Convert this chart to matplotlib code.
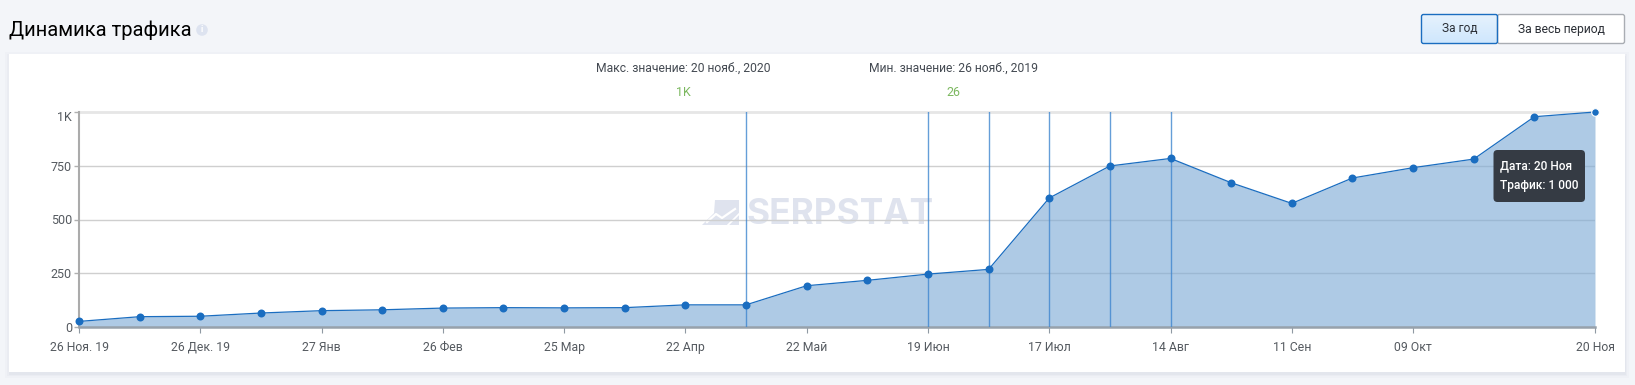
import matplotlib
matplotlib.use("Agg")
import matplotlib.pyplot as plt
from matplotlib.patches import FancyBboxPatch, Rectangle, Polygon, Circle
from matplotlib.colors import LinearSegmentedColormap
from matplotlib.transforms import ScaledTranslation
import numpy as np

W, H = 1635, 385

# --- data ---
values = [26, 48, 50, 65, 76, 80, 88, 90, 89, 90, 103, 103, 192, 217, 246, 268,
          600, 749, 784, 671, 575, 693, 741, 781, 978, 1000]
tick_idx = [0, 2, 4, 6, 8, 10, 12, 14, 16, 18, 20, 22, 25]
tick_labels = ["26 Ноя. 19", "26 Дек. 19", "27 Янв", "26 Фев", "25 Мар", "22 Апр", "22 Май",
               "19 Июн", "17 Июл", "14 Авг", "11 Сен", "09 Окт", "20 Ноя"]
y_ticks = [0, 250, 500, 750, 1000]
y_labels = ["0", "250", "500", "750", "1K"]
marked_idx = [11, 14, 15, 16, 17, 18]

BLUE = "#1a6dc0"
plt.rcParams['font.family'] = ['Roboto', 'DejaVu Sans']

fig = plt.figure(figsize=(W / 100, H / 100), dpi=100, facecolor="#f3f5f9")

# page layer in pixel coordinates
bg = fig.add_axes([0, 0, 1, 1], zorder=0)
bg.set_xlim(0, W)
bg.set_ylim(H, 0)
bg.axis("off")

# card shadow + card
for grow, a in [(5, 0.04), (3, 0.05), (1.5, 0.07)]:
    bg.add_patch(Rectangle((9 - grow + 1, 54 - grow + 3), 1616 + 2 * grow - 2, 318 + 2 * grow - 2,
                           fc="#8d9ab5", ec="none", alpha=a))
bg.add_patch(Rectangle((9, 54), 1616, 318, fc="white", ec="none"))

# title
bg.text(9, 30, "Динамика трафика", fontsize=14.5, color="#000000", va="center", ha="left")
bg.add_patch(Circle((202, 30), 5.8, fc="#dde3f0", ec="none"))
bg.text(202, 30, "i", fontsize=6.5, color="white", ha="center", va="center", fontweight="bold")

# buttons
grad = LinearSegmentedColormap.from_list("btn", ["#e6f2fd", "#cfe7fd"])
btn = FancyBboxPatch((1421.5, 14.5), 76, 29, boxstyle="round,pad=0,rounding_size=2",
                     fc="none", ec=BLUE, lw=1, zorder=3)
img = bg.imshow(np.linspace(0, 1, 30).reshape(-1, 1), cmap=grad, extent=(1421.5, 1497.5, 43.5, 14.5),
                aspect="auto", zorder=1)
bg.set_xlim(0, W)
bg.set_ylim(H, 0)
bg.add_patch(FancyBboxPatch((1497.5, 14.5), 127, 29, boxstyle="round,pad=0,rounding_size=2",
                            fc="white", ec="#a9adb3", lw=1, zorder=2))
bg.add_patch(btn)
bg.text(1459.5, 29, "За год", fontsize=8.6, color="#2b2f36", ha="center", va="center", zorder=4)
bg.text(1561, 29, "За весь период", fontsize=8.7, color="#2b2f36", ha="center", va="center", zorder=4)

# min/max captions
bg.text(683, 68, "Макс. значение: 20 нояб., 2020", fontsize=8.7, color="#444a52", ha="center", va="center")
bg.text(953.5, 68, "Мин. значение: 26 нояб., 2019", fontsize=8.7, color="#444a52", ha="center", va="center")
bg.text(683, 92, "1K", fontsize=9, color="#7cb860", ha="center", va="center")
bg.text(953.5, 92, "26", fontsize=9, color="#7cb860", ha="center", va="center")

# watermark
bg.add_patch(Polygon([(702, 225), (714, 213), (715, 200), (739, 200), (739, 225)],
                     fc="#dfe3ee", ec="none"))
bg.plot([707, 716, 722, 735], [222, 214, 218, 209], color="white", lw=1.6)
bg.plot([728, 739], [225, 214], color="white", lw=1.2)
bg.text(747, 214, "SERPSTAT", fontsize=25.4, fontweight="bold", family="Inter", color="#dfe3ee",
        ha="left", va="center")
bg.set_xlim(0, W)
bg.set_ylim(H, 0)

# chart
ax = fig.add_axes([79 / W, 1 - 327 / H, (1595 - 79) / W, (327 - 112) / H], zorder=1)
ax.patch.set_alpha(0)
x = np.arange(len(values))
ax.set_xlim(0, len(values) - 1)
ax.set_ylim(0, 1000)

for t in y_ticks[1:4]:
    ax.axhline(t, color="#cfcfcf", lw=1, zorder=1)
ax.axhline(1000, color="#e6e6e6", lw=2, zorder=1, clip_on=False)

ax.fill_between(x, values, 0, color="#7fabd6", alpha=0.63, lw=0, zorder=2)
ax.plot([x[-1], x[-1]], [0, 1000], color="#a9c4df", lw=0.8, zorder=2)
for i in marked_idx:
    ax.axvline(i, color="#3f86cf", lw=1, alpha=0.8, zorder=3)
ax.plot(x, values, color=BLUE, lw=0.9, zorder=4, clip_on=False)
ax.scatter(x[:-1], values[:-1], s=33, color=BLUE, lw=0, zorder=5, clip_on=False)
ax.scatter(x[-1:], values[-1:], s=30, color=BLUE, edgecolors="white", linewidths=0.8, zorder=5, clip_on=False)

ax.set_xticks([x[i] for i in tick_idx])
ax.set_xticklabels(tick_labels, va="baseline")
ax.set_yticks(y_ticks)
ax.set_yticklabels(y_labels)
ax.tick_params(axis="x", length=4.3, width=0.8, color="#8f99a3", labelsize=8.8, labelcolor="#555a60", pad=13.3)
ax.tick_params(axis="y", length=3.6, width=1, color="#b0b0b0", labelsize=9, labelcolor="#555a60", pad=1.5)
top_label = ax.get_yticklabels()[-1]
top_label.set_verticalalignment("top")
top_label.set_transform(top_label.get_transform() + ScaledTranslation(0, 1 / 100, fig.dpi_scale_trans))
# Д hangs lower than the other glyphs and pushes this label down by a pixel
dec_label = ax.get_xticklabels()[1]
dec_label.set_transform(dec_label.get_transform() + ScaledTranslation(0, 1 / 100, fig.dpi_scale_trans))
for s in ["top", "right"]:
    ax.spines[s].set_visible(False)
ax.spines["left"].set_color("#ababab")
ax.spines["left"].set_linewidth(1.5)
ax.spines["bottom"].set_color("#97a1ab")
ax.spines["bottom"].set_linewidth(1.8)

# tooltip on top, pixel coordinates
top = fig.add_axes([0, 0, 1, 1], zorder=2)
top.set_xlim(0, W)
top.set_ylim(H, 0)
top.axis("off")
top.add_patch(FancyBboxPatch((1493.5, 150), 91.5, 52, boxstyle="round,pad=0,rounding_size=4",
                             fc="#353b44", ec="none"))
top.text(1500.5, 166, "Дата: 20 Ноя", fontsize=8.6, color="white", ha="left", va="center", fontweight="medium")
top.text(1500.5, 185, "Трафик: 1 000", fontsize=8.6, color="white", ha="left", va="center", fontweight="medium")

fig.savefig("out.png", dpi=100, facecolor=fig.get_facecolor())
